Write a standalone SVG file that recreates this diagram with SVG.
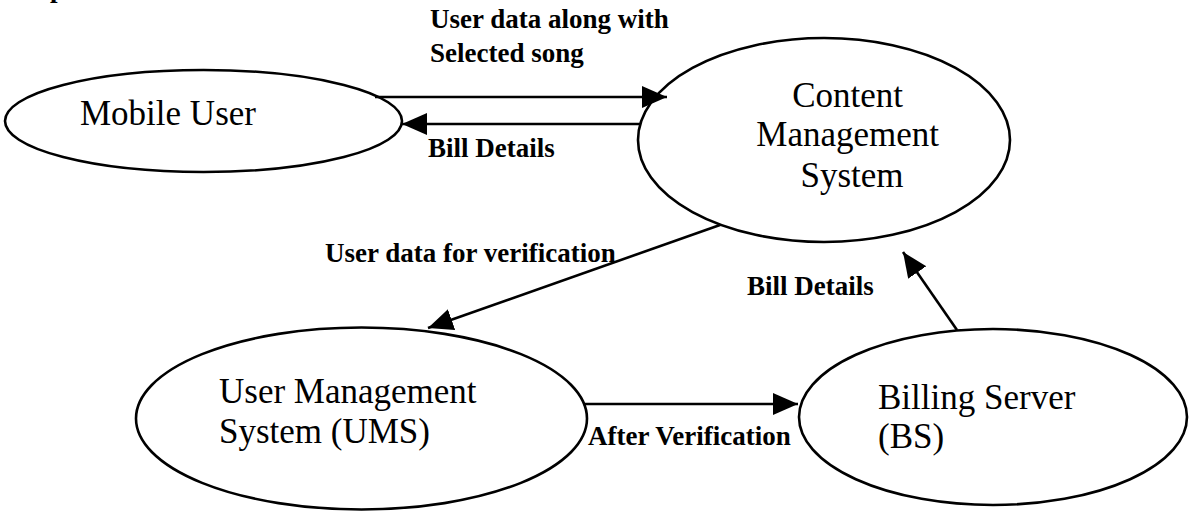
<svg xmlns="http://www.w3.org/2000/svg" width="1191" height="513" viewBox="0 0 1191 513">
  <style>
    .node { fill: #ffffff; stroke: #000000; stroke-width: 2.6; }
    .name { font-family: "Liberation Serif", "Times New Roman", serif; font-size: 35px; fill: #000000; }
    .label { font-family: "Liberation Serif", "Times New Roman", serif; font-size: 27px; font-weight: bold; fill: #000000; }
    .flow { stroke: #000000; stroke-width: 2.6; fill: none; marker-end: url(#head); }
  </style>
  <defs>
    <marker id="head" markerUnits="userSpaceOnUse" markerWidth="26" markerHeight="24" refX="25" refY="11" orient="auto">
      <path d="M0,0 L25,11 L0,22 Z" fill="#000000"/>
    </marker>
  </defs>
  <rect width="1191" height="513" fill="#ffffff"/>

  <!-- heading cut off at the top edge -->
  <text class="label" x="50" y="-3">p</text>

  <g id="mobile-user">
    <ellipse class="node" cx="203.5" cy="121" rx="198.5" ry="51"/>
    <text class="name" x="80" y="125">Mobile User</text>
  </g>

  <g id="content-management-system">
    <ellipse class="node" cx="824" cy="140" rx="186" ry="102"/>
    <text class="name" text-anchor="middle">
      <tspan x="852" y="107">Content</tspan>
      <tspan x="852" y="146">Management</tspan>
      <tspan x="852" y="187">System</tspan>
    </text>
  </g>

  <g id="user-management-system">
    <ellipse class="node" cx="361.5" cy="418.5" rx="225.5" ry="91"/>
    <text class="name">
      <tspan x="219" y="403">User Management</tspan>
      <tspan x="219" y="443">System (UMS)</tspan>
    </text>
  </g>

  <g id="billing-server">
    <ellipse class="node" cx="993" cy="417" rx="194" ry="88"/>
    <text class="name">
      <tspan x="878" y="409">Billing Server</tspan>
      <tspan x="878" y="448">(BS)</tspan>
    </text>
  </g>

  <g id="connectors">
    <line class="flow" x1="375" y1="97" x2="667" y2="97"/>
    <line class="flow" x1="640" y1="124" x2="402" y2="124"/>
    <line class="flow" x1="720" y1="225" x2="428" y2="328"/>
    <line class="flow" x1="957" y1="330" x2="903" y2="252"/>
    <line class="flow" x1="583" y1="404" x2="798" y2="404"/>

    <text class="label">
      <tspan x="430" y="28">User data along with</tspan>
      <tspan x="430" y="62">Selected song</tspan>
    </text>
    <text class="label" x="428" y="157">Bill Details</text>
    <text class="label" x="325" y="262">User data for verification</text>
    <text class="label" x="747" y="295">Bill Details</text>
    <text class="label" x="588" y="445">After Verification</text>
  </g>
</svg>
